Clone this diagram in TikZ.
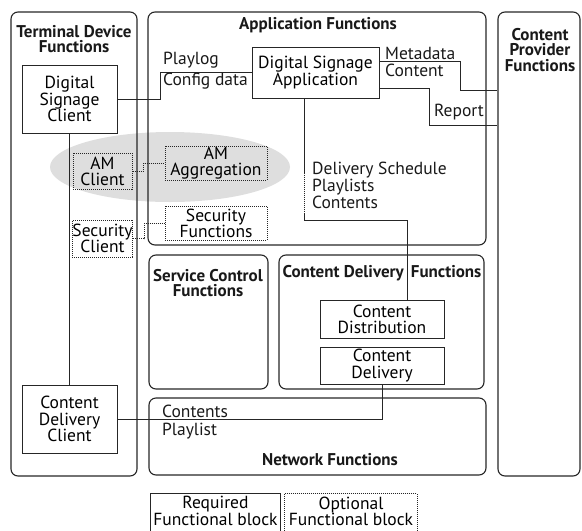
\documentclass[tikz,border=0pt]{standalone}
\usepackage{fontspec}
\setmainfont{PT Sans}
\begin{document}
\begin{tikzpicture}[x=1pt,y=-1pt,
  grp/.style={draw=black!85, line width=1.1pt, rounded corners=7pt, inner sep=0pt},
  fblock/.style={draw=black!85, line width=1pt, align=center, inner sep=0pt, font=\fontsize{17.5}{16.2}\selectfont},
  optblock/.style={fblock, densely dotted},
  legtext/.style={align=center, inner sep=0pt, font=\fontsize{17.5}{16.2}\selectfont},
  ttl/.style={font=\bfseries\fontsize{17}{15.8}\selectfont, align=center, inner sep=0pt, text=black!90},
  lbl/.style={font=\fontsize{17.5}{15.5}\selectfont, align=left, inner sep=0pt, text=black!90},
  link/.style={draw=black!85, line width=1pt},
  optlink/.style={link, densely dotted}
]
\useasboundingbox (0,0) rectangle (582,531);
% highlight ellipse
\fill[black!13] (170,167) ellipse [x radius=120, y radius=35];
% groups
\node[grp, minimum width=126, minimum height=464] (tdf) at (74,244) {};
\node[grp, minimum width=338, minimum height=233] (af) at (317,128.5) {};
\node[grp, minimum width=82, minimum height=464] (cpf) at (539,244) {};
\node[grp, minimum width=119, minimum height=134] (scf) at (208.5,322) {};
\node[grp, minimum width=205, minimum height=134] (cdf) at (381.5,322) {};
\node[grp, minimum width=337, minimum height=77] (nf) at (317.5,436.5) {};
% titles
\node[ttl] (tdft) at (74,39) {Terminal Device\\Functions};
\node[ttl] (aft) at (318,25) {Application Functions};
\node[ttl] (cpft) at (540,50) {Content\\Provider\\Functions};
\node[ttl] (scft) at (208,283) {Service Control\\Functions};
\node[ttl] (cdft) at (382,273) {Content Delivery\, Functions};
\node[ttl] (nft) at (330,460) {Network Functions};
% blocks
\node[fblock, minimum width=95, minimum height=68] (dsc) at (69.5,99) {Digital\\Signage\\Client};
\node[fblock, minimum width=127, minimum height=51] (dsa) at (315.5,72.5) {Digital Signage\\Application};
\node[optblock, minimum width=59, minimum height=36] (amc) at (102.5,171) {AM\\Client};
\node[optblock, minimum width=102, minimum height=34] (ama) at (216,163) {AM\\Aggregation};
\node[optblock, minimum width=59, minimum height=37] (secc) at (102.5,238.5) {Security\\Client};
\node[optblock, minimum width=102, minimum height=34] (secf) at (216,223) {Security\\Functions};
\node[fblock, minimum width=124, minimum height=38] (cdist) at (382,319) {Content\\Distribution};
\node[fblock, minimum width=124, minimum height=37] (cdel) at (382,365.5) {Content\\Delivery};
\node[fblock, minimum width=95, minimum height=68] (cdc) at (69.5,419) {Content\\Delivery\\Client};
% legend (boxes run past the lower edge of the picture)
\node[legtext, minimum width=129, minimum height=34] (req) at (215.5,511) {Required\\Functional block};
\node[legtext, minimum width=132, minimum height=34] (opt) at (351,511) {Optional\\Functional block};
\draw[link] (req.north west) rectangle ([yshift=-12pt]req.south east);
\draw[optlink] (opt.north west) rectangle ([yshift=-12pt]opt.south east);
% connectors
\draw[link] (dsc.east) -- ++(43,0) |- (dsa.west);
\draw[link] ([yshift=-15pt]dsa.north east) -- ++(81,0) |- ([yshift=154pt]cpf.west);
\draw[link] ([yshift=10pt]dsa.south east) -- ++(50,0) |- ([yshift=119pt]cpf.west);
\draw[link] ([xshift=-11.5pt]dsa.south) -- ++(0,74) coordinate (d1);
\draw[optlink] (d1) -- ++(0,41) coordinate (d2);
\draw[link] (d2) -- ++(0,7) -| ([xshift=25pt]cdist.north);
\draw[link] (dsc.south) -- (cdc.north);
\draw[optlink] (amc.east) -- ++(11,0) |- (ama.west);
\draw[optlink] (secc.east) -- ++(11,0) |- (secf.west);
\draw[link] (cdel.south) |- (cdc.east);
% labels
\node[lbl, anchor=south west] (lplay) at (163,68) {Playlog};
\node[lbl, anchor=north west] (lconf) at (163,73) {Config data};
\node[lbl, anchor=south west] (lmeta) at (385,60) {Metadata};
\node[lbl, anchor=north west] (lcont) at (385,64) {Content};
\node[lbl, anchor=south east] (lrep) at (484,120) {Report};
\node[lbl, anchor=north west] (lds) at (312,162) {Delivery Schedule\\Playlists\\Contents};
\node[lbl, anchor=south west] (lcs) at (162,418) {Contents};
\node[lbl, anchor=north west] (lpl) at (162,423) {Playlist};
\end{tikzpicture}
\end{document}
